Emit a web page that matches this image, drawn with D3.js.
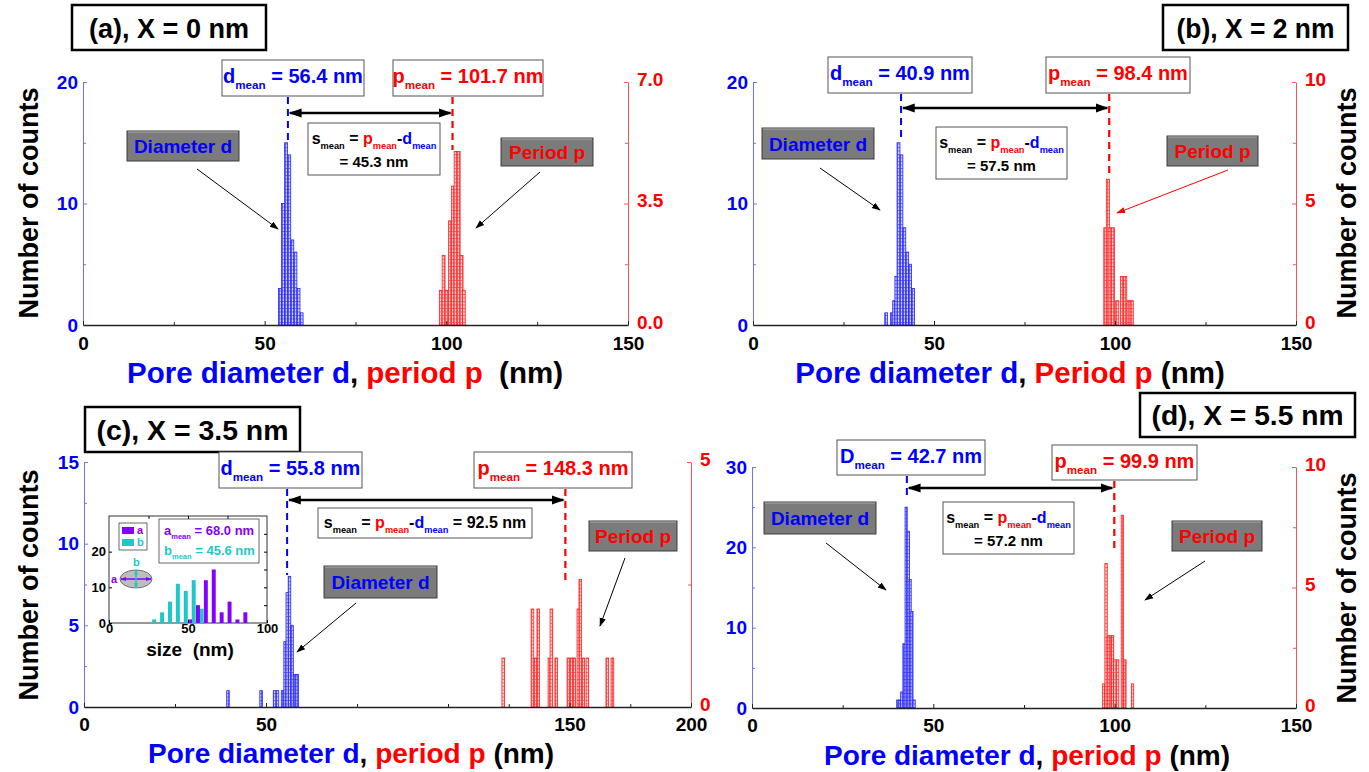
<!DOCTYPE html>
<html lang="en">
<head>
<meta charset="UTF-8">
<script src="https://cdn.jsdelivr.net/npm/d3@7"></script>
<title>Pore diameter and period histograms</title>
<style>
  body { margin: 0; background: #fff; }
  svg { display: block; font-family: "Liberation Sans", Arial, sans-serif; font-weight: bold; }
  text { white-space: pre; }
</style>
</head>
<body>
<svg id="chart" width="1369" height="772"></svg>
<script>
// ---------- data: bin start (nm), bin counts ----------
// (a) X = 0 nm
const aDiamStart = [53.8, 54.65, 55.5, 56.35, 57.2, 58.05, 58.9, 59.75];
const aDiamCount = [3, 10, 15, 14, 7, 6, 3, 1];
const aPerStart = [98.1, 98.85, 99.7, 100.6, 101.4, 102.15, 103.0, 103.8, 104.4];
const aPerCount = [1, 2, 1, 3, 4, 5, 5, 2, 1];
// (b) X = 2 nm
const bDiamStart = [36.4, 38.0, 38.6, 39.2, 39.8, 40.6, 41.4, 42.2, 43.0, 43.8];
const bDiamCount = [1, 1, 2, 4, 15, 14, 8, 6, 5, 3];
const bPerStart = [96.9, 97.6, 98.3, 99.0, 100.2, 101.5, 102.4, 103.3, 104.2];
const bPerCount = [4, 6, 4, 4, 1, 2, 2, 1, 1];
// (c) X = 3.5 nm
const cDiamStart = [39.2, 48.3, 52.0, 52.8, 54.2, 54.9, 55.5, 56.1, 56.8, 57.5, 58.2];
const cDiamCount = [1, 1, 1, 1, 1, 4, 7, 8, 5, 2, 2];
const cPerStart = [122.2, 134.2, 135.4, 136.6, 141.2, 142.0, 144.0, 149.0, 150.2, 151.4, 153.1, 153.9, 155.1, 156.8, 165.0, 167.1];
const cPerCount = [1, 2, 1, 2, 1, 2, 1, 1, 1, 1, 2, 2.6, 1, 1, 1, 1];
// (d) X = 5.5 nm
const dDiamStart = [39.9, 40.5, 41.0, 41.6, 42.2, 42.8, 43.3, 43.8, 44.4];
const dDiamCount = [1, 1, 2, 8, 25, 22, 16, 12, 1];
const dPerStart = [96.6, 97.3, 97.9, 98.5, 99.1, 99.7, 100.5, 101.8, 102.5, 104.6];
const dPerCount = [1, 6, 3, 3, 3, 2, 2, 8, 2, 1];
// inset of (c): ellipse axes a, b
const insetBins = [30, 35, 40, 45, 50, 55, 60, 65, 70, 75, 80, 85];
const insetA = [0, 0, 0, 0, 1, 5, 12, 15, 3, 6, 1, 3];
const insetB = [1, 3, 6, 11, 9, 12, 4, 0, 0, 0, 0, 0];

// means shown in the boxes
const dMeans = [56.4, 40.9, 55.8, 42.7];
const pMeans = [101.7, 98.4, 148.3, 99.9];
const sMeans = [45.3, 57.5, 92.5, 57.2];
const aMean = 68.0, bMean = 45.6;

// tick labels
const xTicks150 = [0, 50, 100, 150];
const xTicksC = [0, 50, 150, 200];
const leftTicksA = [0, 10, 20], leftTicksC = [0, 5, 10, 15], leftTicksD = [0, 10, 20, 30];
const rightTicksA = [0, 3.5, 7.0], rightTicks10 = [0, 5, 10], rightTicksC = [0, 5];

const BLUE = '#0000ff', RED = '#ff0000', PURPLE = '#8400ff', CYAN = '#1cc8c8';
const svg = d3.select('#chart');
const defs = svg.append('defs');

function hatch(id, line, bg) {
  const p = defs.append('pattern').attr('id', id)
    .attr('patternUnits', 'userSpaceOnUse').attr('width', 3).attr('height', 3.5);
  p.append('rect').attr('width', 3).attr('height', 3.5).attr('fill', bg);
  p.append('path').attr('d', 'M0,0.5H3M0.5,0V3.5').attr('stroke', line).attr('stroke-width', 0.7);
}
hatch('hBlue', '#4040ff', '#cfcfff');
hatch('hRed', '#ff4040', '#ffcfcf');

function marker(id, color, size) {
  defs.append('marker').attr('id', id).attr('viewBox', '0 0 10 10')
    .attr('refX', 9).attr('refY', 5).attr('markerWidth', size).attr('markerHeight', size)
    .attr('markerUnits', 'userSpaceOnUse').attr('orient', 'auto-start-reverse')
    .append('path').attr('d', 'M0,1.5L10,5L0,8.5z').attr('fill', color);
}
marker('arK', '#000', 9);
marker('arR', RED, 9);
marker('arBig', '#000', 13);
marker('arP', PURPLE, 6);
marker('arC', CYAN, 6);

// text with subscripts: parts = [text, colour, isSub]
function rich(g, x, y, parts, size, anchor) {
  const t = g.append('text').attr('x', x).attr('y', y).attr('font-size', size)
    .attr('text-anchor', anchor || 'middle');
  let down = false;
  parts.forEach(p => {
    const ts = t.append('tspan').text(p[0]).attr('fill', p[1]);
    if (p[2]) {
      ts.attr('font-size', size * 0.58);
      if (!down) { ts.attr('dy', size * 0.3); down = true; }
    } else if (down) { ts.attr('dy', -size * 0.3); down = false; }
  });
  return t;
}

function box(g, b, fill, stroke, sw) {
  g.append('rect').attr('x', b[0]).attr('y', b[1]).attr('width', b[2]).attr('height', b[3])
    .attr('fill', fill).attr('stroke', stroke).attr('stroke-width', sw);
}

function labelBox(g, b, txt, color) {
  box(g, b, '#7b7b7b', '#3c3c3c', 1);
  g.append('line').attr('x1', b[0] + 1).attr('x2', b[0] + b[2] - 1).attr('y1', b[1] + 1).attr('y2', b[1] + 1)
    .attr('stroke', '#aaa').attr('stroke-width', 1);
  g.append('text').attr('x', b[0] + b[2] / 2).attr('y', b[1] + b[3] / 2 + 7)
    .attr('text-anchor', 'middle').attr('font-size', 19).attr('fill', color).text(txt);
}

function panel(P) {
  const g = svg.append('g');
  const x = d3.scaleLinear().domain(P.xd).range(P.xr);
  const x0 = P.xr[0], x1 = P.xr[P.xr.length - 1];
  const yL = d3.scaleLinear().domain(P.ld).range([P.yb, P.yt]);
  const yR = d3.scaleLinear().domain(P.rd).range([P.yb, P.yt]);

  // histogram bars
  function bars(start, count, w, y, fill, stroke) {
    g.append('g').selectAll('rect')
      .data(start.map((v, i) => ({ v, n: count[i] })))
      .join('rect')
      .attr('x', d => x(d.v)).attr('width', d => x(d.v + w) - x(d.v))
      .attr('y', d => y(d.n)).attr('height', d => P.yb - y(d.n))
      .attr('fill', fill).attr('stroke', stroke).attr('stroke-width', 0.8);
  }
  bars(P.diam[0], P.diam[1], P.diam[2], yL, 'url(#hBlue)', '#2020ff');
  bars(P.per[0], P.per[1], P.per[2], yR, 'url(#hRed)', '#ff2020');

  // axes
  const font = s => s.attr('font-family', '"Liberation Sans", Arial, sans-serif').attr('font-weight', 'bold');
  const axL = g.append('g').attr('transform', `translate(${x0},0)`)
    .call(d3.axisLeft(yL).tickValues(P.lt).tickSize(-4).tickSizeOuter(0).tickPadding(5).tickFormat(d3.format('d')));
  axL.append('g').call(d3.axisLeft(yL).tickValues(P.lm).tickSize(-3).tickFormat(''))
    .select('.domain').remove();
  axL.selectAll('path.domain, line').attr('stroke', '#7070ff');
  axL.selectAll('text').call(font).attr('font-size', 19).attr('fill', BLUE);

  const axR = g.append('g').attr('transform', `translate(${x1},0)`)
    .call(d3.axisRight(yR).tickValues(P.rt).tickSize(-4).tickSizeOuter(0).tickPadding(9).tickFormat(d3.format(P.rfmt)));
  axR.append('g').call(d3.axisRight(yR).tickValues(P.rm).tickSize(-3).tickFormat(''))
    .select('.domain').remove();
  axR.selectAll('path.domain, line').attr('stroke', '#ff5050');
  axR.selectAll('text').call(font).attr('font-size', 19).attr('fill', RED).attr('dy', '0.18em');

  const axB = g.append('g').attr('transform', `translate(0,${P.yb})`)
    .call(d3.axisBottom(x).tickValues(P.xt).tickSize(-4).tickSizeOuter(0).tickPadding(P.xPad).tickFormat(d3.format('d')));
  axB.append('g').call(d3.axisBottom(x).tickValues(P.xm).tickSize(-3).tickFormat(''))
    .select('.domain').remove();
  axB.select('.domain').attr('stroke', '#222').attr('stroke-width', 1.6);
  axB.selectAll('line').attr('stroke', '#222');
  axB.selectAll('text').call(font).attr('font-size', 19).attr('fill', '#000');

  // axis titles
  rich(g, P.xTitle[0], P.xTitle[1], [['Pore diameter d', BLUE], [',', '#000'], [' ' + P.perWord, RED], [P.nmGap + '(nm)', '#000']], P.xTitleSize);
  g.append('text').attr('transform', `translate(${P.yLab[0]},${P.yLab[1]}) rotate(-90)`)
    .attr('text-anchor', 'middle').attr('font-size', 27).attr('fill', '#000').text('Number of counts');

  // panel title
  box(g, P.tb, '#fff', '#000', 2.5);
  g.append('text').attr('x', P.tb[0] + P.tb[2] / 2).attr('y', P.tb[1] + P.tb[3] / 2 + 10)
    .attr('text-anchor', 'middle').attr('font-size', 28).attr('fill', '#000')
    .attr('textLength', P.tLen).attr('lengthAdjust', 'spacingAndGlyphs').text(P.title);

  // mean boxes
  box(g, P.dBox, '#fff', '#555', 1);
  rich(g, P.dBox[0] + P.dBox[2] / 2, P.dBox[1] + 23, [[P.dSym, BLUE], ['mean', BLUE, 1], [` = ${P.dMean.toFixed(1)} nm`, BLUE]], 20);
  box(g, P.pBox, '#fff', '#555', 1);
  rich(g, P.pBox[0] + P.pBox[2] / 2, P.pBox[1] + 23, [['p', RED], ['mean', RED, 1], [` = ${P.pMean.toFixed(1)} nm`, RED]], 20);

  // dashed mean lines
  g.append('line').attr('x1', x(P.dMean)).attr('x2', x(P.dMean)).attr('y1', P.dLine[0]).attr('y2', P.dLine[1])
    .attr('stroke', BLUE).attr('stroke-width', 2).attr('stroke-dasharray', '7,5');
  g.append('line').attr('x1', x(P.pMean)).attr('x2', x(P.pMean)).attr('y1', P.pLine[0]).attr('y2', P.pLine[1])
    .attr('stroke', RED).attr('stroke-width', 2.2).attr('stroke-dasharray', '7,5');

  // double arrow between means
  g.append('line').attr('x1', x(P.dMean) + 2).attr('x2', x(P.pMean) - 2).attr('y1', P.dbl).attr('y2', P.dbl)
    .attr('stroke', '#000').attr('stroke-width', 2.5)
    .attr('marker-start', 'url(#arBig)').attr('marker-end', 'url(#arBig)');

  // s_mean box
  box(g, P.sBox, '#fff', '#555', 1);
  const sParts = [['s', '#000'], ['mean', '#000', 1], [' = ', '#000'], ['p', RED], ['mean', RED, 1], ['-', '#000'], ['d', BLUE], ['mean', BLUE, 1]];
  const sx = P.sBox[0] + P.sBox[2] / 2;
  if (P.sOneLine) {
    rich(g, sx, P.sBox[1] + 20, sParts.concat([[` = ${P.sMean.toFixed(1)} nm`, '#000']]), 16);
  } else {
    rich(g, sx, P.sBox[1] + 21, sParts, 16);
    g.append('text').attr('x', sx).attr('y', P.sBox[1] + 44).attr('text-anchor', 'middle')
      .attr('font-size', 15).attr('fill', '#000').text(`= ${P.sMean.toFixed(1)} nm`);
  }

  // label boxes with arrows
  labelBox(g, P.diamBox, 'Diameter d', BLUE);
  g.append('line').attr('x1', P.diamArrow[0]).attr('y1', P.diamArrow[1]).attr('x2', P.diamArrow[2]).attr('y2', P.diamArrow[3])
    .attr('stroke', '#000').attr('stroke-width', 1).attr('marker-end', 'url(#arK)');
  labelBox(g, P.perBox, 'Period p', RED);
  g.append('line').attr('x1', P.perArrow[0]).attr('y1', P.perArrow[1]).attr('x2', P.perArrow[2]).attr('y2', P.perArrow[3])
    .attr('stroke', P.perArrowColor).attr('stroke-width', 1)
    .attr('marker-end', P.perArrowColor === RED ? 'url(#arR)' : 'url(#arK)');
  return g;
}

panel({
  title: '(a), X = 0 nm', tb: [72, 5, 194, 45], tLen: 160,
  xd: [0, 150], xr: [83, 628], yt: 82, yb: 325,
  ld: [0, 20], lt: leftTicksA, lm: [5, 15],
  rd: [0, 7], rt: rightTicksA, rm: [1.75, 5.25], rfmt: '.1f',
  xt: xTicks150, xm: [25, 75, 125], xPad: 12,
  diam: [aDiamStart, aDiamCount, 0.82], per: [aPerStart, aPerCount, 0.8],
  dMean: dMeans[0], pMean: pMeans[0], sMean: sMeans[0], dSym: 'd',
  dBox: [222, 60, 142, 36], pBox: [393, 60, 150, 36],
  dLine: [97, 142], pLine: [97, 150], dbl: 113,
  sBox: [308, 123, 132, 52],
  diamBox: [127, 131, 112, 30], diamArrow: [197, 169, 278, 229],
  perBox: [501, 138, 92, 28], perArrow: [540, 172, 476, 228], perArrowColor: '#000',
  xTitle: [345, 383], xTitleSize: 29.5, perWord: 'period p', nmGap: '  ', yLab: [38, 203]
});

panel({
  title: '(b), X = 2 nm', tb: [1163, 5, 185, 45], tLen: 158,
  xd: [0, 150], xr: [753, 1296], yt: 82, yb: 325,
  ld: [0, 20], lt: leftTicksA, lm: [5, 15],
  rd: [0, 10], rt: rightTicks10, rm: [2.5, 7.5], rfmt: 'd',
  xt: xTicks150, xm: [25, 75, 125], xPad: 12,
  diam: [bDiamStart, bDiamCount, 0.8], per: [bPerStart, bPerCount, 0.85],
  dMean: dMeans[1], pMean: pMeans[1], sMean: sMeans[1], dSym: 'd',
  dBox: [828, 57, 144, 36], pBox: [1046, 57, 144, 36],
  dLine: [94, 140], pLine: [94, 177], dbl: 108,
  sBox: [936, 127, 131, 52],
  diamBox: [762, 128, 112, 31], diamArrow: [820, 168, 880, 210],
  perBox: [1167, 136, 91, 30], perArrow: [1228, 170, 1117, 213], perArrowColor: RED,
  xTitle: [1010, 383], xTitleSize: 29.5, perWord: 'Period p', nmGap: ' ', yLab: [1356, 203]
});

const gc = panel({
  title: '(c), X = 3.5 nm', tb: [85, 407, 215, 45], tLen: 192,
  xd: [0, 100, 200], xr: [84, 448, 691], yt: 462, yb: 707,
  ld: [0, 15], lt: leftTicksC, lm: [2.5, 7.5, 12.5],
  rd: [0, 5], rt: rightTicksC, rm: [2.5], rfmt: 'd',
  xt: xTicksC, xm: [25, 75, 100, 125, 175], xPad: 11,
  diam: [cDiamStart, cDiamCount, 0.7], per: [cPerStart, cPerCount, 1.1],
  dMean: dMeans[2], pMean: pMeans[2], sMean: sMeans[2], dSym: 'd',
  dBox: [219, 452, 143, 36], pBox: [474, 452, 158, 36],
  dLine: [489, 575], pLine: [489, 580], dbl: 500,
  sBox: [318, 508, 214, 30], sOneLine: true,
  diamBox: [324, 566, 113, 32], diamArrow: [356, 603, 297, 652],
  perBox: [589, 521, 88, 30], perArrow: [625, 558, 600, 626], perArrowColor: '#000',
  xTitle: [351, 763], xTitleSize: 28, perWord: 'period p', nmGap: ' ', yLab: [38, 585]
});

panel({
  title: '(d), X = 5.5 nm', tb: [1140, 393, 215, 44], tLen: 192,
  xd: [0, 150], xr: [752, 1296], yt: 467, yb: 708,
  ld: [0, 30], lt: leftTicksD, lm: [5, 15, 25],
  rd: [0, 10], rt: rightTicks10, rm: [2.5, 7.5], rfmt: 'd',
  xt: xTicks150, xm: [25, 75, 125], xPad: 11,
  diam: [dDiamStart, dDiamCount, 0.6], per: [dPerStart, dPerCount, 0.65],
  dMean: dMeans[3], pMean: pMeans[3], sMean: sMeans[3], dSym: 'D',
  dBox: [837, 440, 148, 35], pBox: [1052, 445, 145, 35],
  dLine: [476, 500], pLine: [481, 552], dbl: 488,
  sBox: [943, 502, 131, 52],
  diamBox: [764, 502, 112, 32], diamArrow: [826, 543, 886, 590],
  perBox: [1172, 521, 90, 30], perArrow: [1205, 561, 1145, 600], perArrowColor: '#000',
  xTitle: [1027, 765], xTitleSize: 28, perWord: 'period p', nmGap: ' ', yLab: [1356, 588]
});

// ---------- inset in (c) ----------
(function inset(g) {
  const ix = d3.scaleLinear().domain([0, 100]).range([109, 267]);
  const iy = d3.scaleLinear().domain([0, 30]).range([623, 516]);
  g.append('rect').attr('x', 109).attr('y', 516).attr('width', 158).attr('height', 107)
    .attr('fill', '#fff').attr('stroke', '#333').attr('stroke-width', 1);
  const bw = 2.5;
  const bb = g.append('g');
  bb.selectAll('rect.b').data(insetBins.map((v, i) => ({ v, n: insetB[i] })).filter(d => d.n > 0)).join('rect')
    .attr('x', d => ix(d.v - 1.4 - bw / 2)).attr('width', d => ix(bw) - ix(0))
    .attr('y', d => iy(d.n)).attr('height', d => 623 - iy(d.n)).attr('fill', CYAN);
  bb.selectAll('rect.a').data(insetBins.map((v, i) => ({ v, n: insetA[i] })).filter(d => d.n > 0)).join('rect')
    .attr('x', d => ix(d.v + 1.3 - bw / 2)).attr('width', d => ix(bw) - ix(0))
    .attr('y', d => iy(d.n)).attr('height', d => 623 - iy(d.n)).attr('fill', PURPLE);

  const font = s => s.attr('font-family', '"Liberation Sans", Arial, sans-serif').attr('font-weight', 'bold');
  const axX = g.append('g').attr('transform', 'translate(0,623)')
    .call(d3.axisBottom(ix).tickValues([0, 50, 100]).tickSize(-3).tickSizeOuter(0).tickPadding(1).tickFormat(d3.format('d')));
  axX.selectAll('text').call(font).attr('font-size', 13).attr('fill', '#000');
  axX.select('.domain').remove();
  g.append('g').attr('transform', 'translate(0,516)')
    .call(d3.axisTop(ix).tickValues([25, 50, 75]).tickSize(-3).tickFormat('')).select('.domain').remove();
  const axY = g.append('g').attr('transform', 'translate(109,0)')
    .call(d3.axisLeft(iy).tickValues([0, 10, 20]).tickSize(-3).tickSizeOuter(0).tickPadding(3).tickFormat(d3.format('d')));
  axY.selectAll('text').call(font).attr('font-size', 13).attr('fill', '#000');
  axY.select('.domain').remove();
  g.append('g').attr('transform', 'translate(267,0)')
    .call(d3.axisRight(iy).tickValues([5, 10, 15, 20, 25]).tickSize(-3).tickFormat('')).select('.domain').remove();
  g.append('text').attr('x', 190).attr('y', 656).attr('text-anchor', 'middle').attr('font-size', 19)
    .attr('fill', '#000').text('size  (nm)');

  // legend
  g.append('rect').attr('x', 119).attr('y', 523).attr('width', 28).attr('height', 27)
    .attr('fill', '#fff').attr('stroke', '#444').attr('stroke-width', 0.8);
  g.append('rect').attr('x', 122).attr('y', 527).attr('width', 12).attr('height', 7).attr('fill', PURPLE);
  g.append('rect').attr('x', 122).attr('y', 539).attr('width', 12).attr('height', 7).attr('fill', CYAN);
  g.append('text').attr('x', 137).attr('y', 534).attr('font-size', 11).attr('fill', PURPLE).text('a');
  g.append('text').attr('x', 137).attr('y', 546).attr('font-size', 11).attr('fill', CYAN).text('b');

  // means box
  g.append('rect').attr('x', 159).attr('y', 519).attr('width', 100).attr('height', 44)
    .attr('fill', '#fff').attr('stroke', '#444').attr('stroke-width', 0.8);
  rich(g, 164, 535, [['a', PURPLE], ['mean', PURPLE, 1], [` = ${aMean.toFixed(1)} nm`, PURPLE]], 13, 'start');
  rich(g, 164, 555, [['b', CYAN], ['mean', CYAN, 1], [` = ${bMean.toFixed(1)} nm`, CYAN]], 13, 'start');

  // ellipse sketch
  g.append('ellipse').attr('cx', 136).attr('cy', 579).attr('rx', 16).attr('ry', 9)
    .attr('fill', '#bdbdbd').attr('stroke', '#555').attr('stroke-width', 0.8);
  g.append('line').attr('x1', 121).attr('x2', 151).attr('y1', 579).attr('y2', 579)
    .attr('stroke', PURPLE).attr('stroke-width', 1.5)
    .attr('marker-start', 'url(#arP)').attr('marker-end', 'url(#arP)');
  g.append('line').attr('x1', 136).attr('x2', 136).attr('y1', 570).attr('y2', 588)
    .attr('stroke', CYAN).attr('stroke-width', 1.5)
    .attr('marker-start', 'url(#arC)').attr('marker-end', 'url(#arC)');
  g.append('text').attr('x', 111).attr('y', 583).attr('font-size', 11).attr('fill', PURPLE).text('a');
  g.append('text').attr('x', 133).attr('y', 566).attr('font-size', 11).attr('fill', CYAN).text('b');
})(gc);
</script>
</body>
</html>
